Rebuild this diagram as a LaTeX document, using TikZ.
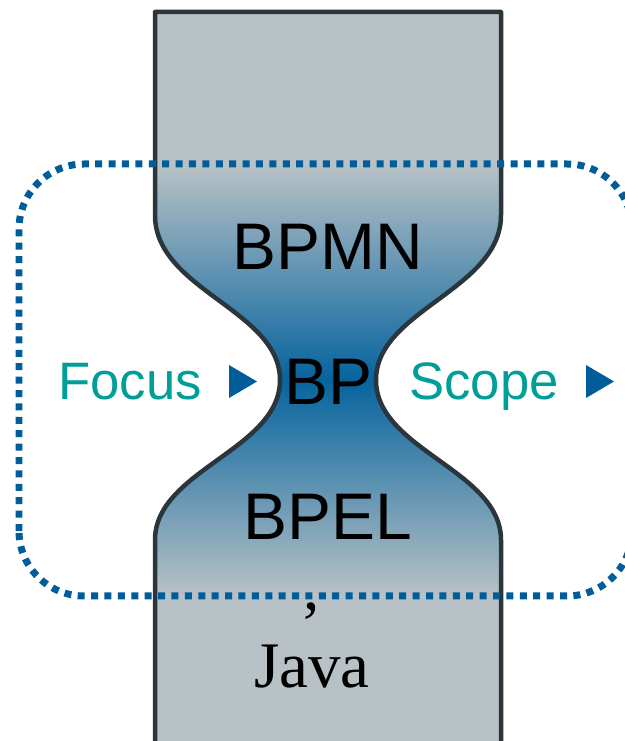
\documentclass[tikz,border=0pt]{standalone}
\usepackage{fontspec}
\setmainfont{Liberation Sans}
\newfontfamily\javafont{Liberation Serif}
\definecolor{glassgray}{RGB}{184,193,197}
\definecolor{glassmid}{RGB}{78,140,178}
\definecolor{glassblue}{RGB}{6,100,158}
\definecolor{glassedge}{RGB}{43,53,60}
\definecolor{frameblue}{RGB}{0,93,154}
\definecolor{focusteal}{RGB}{0,158,152}

\begin{document}
\begin{tikzpicture}[x=0.02cm,y=0.02cm,
	layer/.style={font=\fontsize{37.5}{40}\selectfont, inner sep=0pt, anchor=base},
	side/.style={font=\fontsize{30}{32}\selectfont, text=focusteal, inner sep=0pt, anchor=base},
	code/.style={font=\javafont\fontsize{37}{40}\selectfont, inner sep=0pt, anchor=base},
	marker/.style={fill=frameblue}]
	\useasboundingbox (0,0) rectangle (625,741);
	
	% glass body
	\begin{scope}
		\clip (155,-5) -- (155,201) .. controls (155,271) and (280,291) .. (280,361)
			.. controls (280,431) and (155,451) .. (155,526) -- (155,729) -- (501,729) -- (501,526)
			.. controls (501,451) and (376,431) .. (376,361) .. controls (376,291) and (501,271) .. (501,201)
			-- (501,-5) -- cycle;
		\fill[glassgray] (150,-5) rectangle (506,735);
		\shade[top color=glassgray, middle color=glassmid, bottom color=glassblue] (150,361) rectangle (506,576);
		\shade[top color=glassblue, middle color=glassmid, bottom color=glassgray] (150,146) rectangle (506,361);
	\end{scope}
	\draw[glassedge, line width=0.09cm, line join=round] (155,-5) -- (155,201) .. controls (155,271) and (280,291) .. (280,361)
		.. controls (280,431) and (155,451) .. (155,526) -- (155,729) -- (501,729) -- (501,526)
		.. controls (501,451) and (376,431) .. (376,361) .. controls (376,291) and (501,271) .. (501,201)
		-- (501,-5);
	
	% dotted frame
	\draw[frameblue, line width=0.14cm, dash pattern=on 0.14cm off 0.128cm, rounded corners=1.3cm] (19,145) rectangle (632,577);
	
	\node[layer] (bpmn) at (328,471) {BPMN};
	\node[layer] (bp) at (328,336) {BP};
	\node[layer] (bpel) at (328,201) {BPEL};
	
	\node[side] (focus) at (130,341) {Focus};
	\node[side] (scope) at (484,341) {Scope};
	\fill[marker] (229,376) -- ++(28,-16.5) -- ++(-28,-16.5) -- cycle;
	\fill[marker] (586,376) -- ++(28,-16.5) -- ++(-28,-16.5) -- cycle;
	
	\node[code] (tick) at (312,131) {,};
	\node[code] (java) at (312,53) {Java};
\end{tikzpicture}
\end{document}
